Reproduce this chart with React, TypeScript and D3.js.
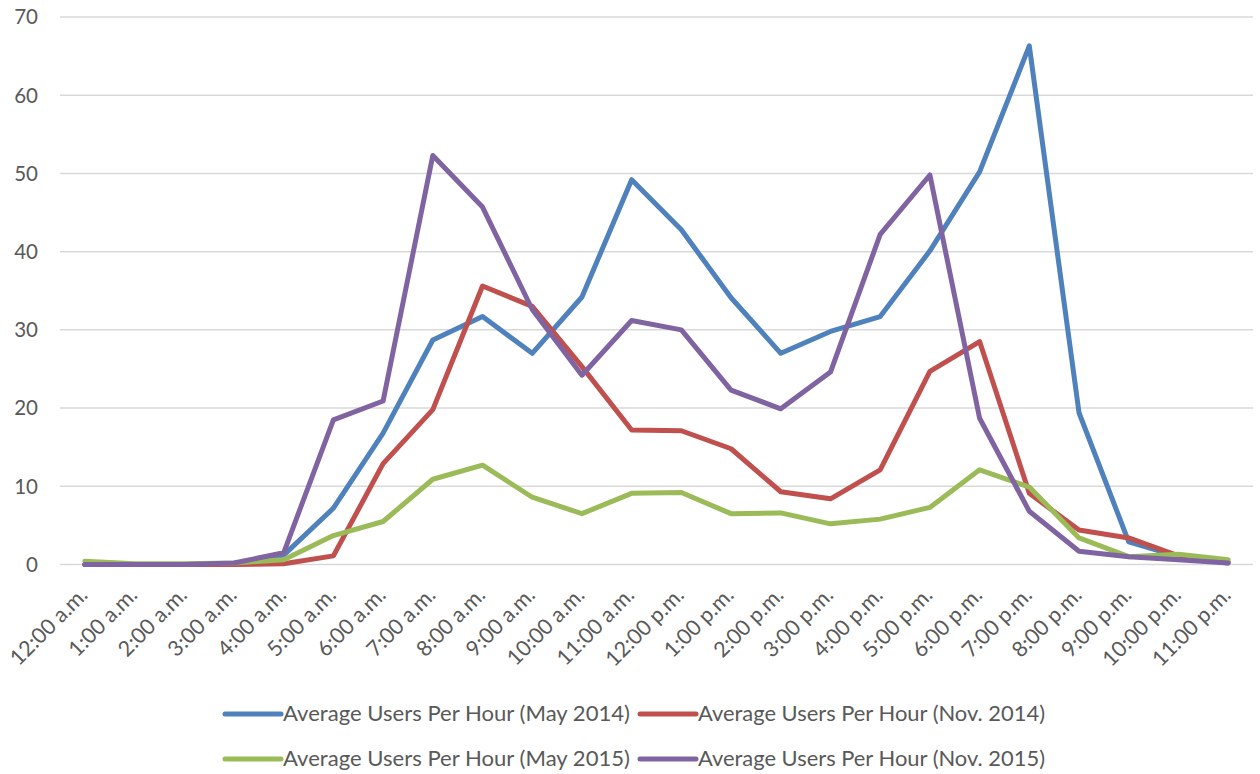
import React from "react";
import * as d3 from "d3";

const hours = [
  "12:00 a.m.", "1:00 a.m.", "2:00 a.m.", "3:00 a.m.", "4:00 a.m.", "5:00 a.m.",
  "6:00 a.m.", "7:00 a.m.", "8:00 a.m.", "9:00 a.m.", "10:00 a.m.", "11:00 a.m.",
  "12:00 p.m.", "1:00 p.m.", "2:00 p.m.", "3:00 p.m.", "4:00 p.m.", "5:00 p.m.",
  "6:00 p.m.", "7:00 p.m.", "8:00 p.m.", "9:00 p.m.", "10:00 p.m.", "11:00 p.m.",
];

const may2014 = [0, 0, 0, 0.1, 1.2, 7.2, 16.8, 28.7, 31.7, 27.0, 34.2, 49.2, 42.8, 34.1, 27.0, 29.8, 31.7, 40.1, 50.2, 66.3, 19.4, 2.9, 1.0, 0.2];
const nov2014 = [0, 0, 0, 0, 0.1, 1.1, 12.9, 19.8, 35.6, 33.0, 25.3, 17.2, 17.1, 14.8, 9.3, 8.4, 12.1, 24.7, 28.5, 9.1, 4.4, 3.4, 1.1, 0.4];
const may2015 = [0.4, 0.1, 0.1, 0.2, 0.6, 3.7, 5.5, 10.9, 12.7, 8.6, 6.5, 9.1, 9.2, 6.5, 6.6, 5.2, 5.8, 7.3, 12.1, 9.9, 3.4, 1.0, 1.3, 0.6];
const nov2015 = [0, 0, 0, 0.2, 1.5, 18.5, 20.9, 52.3, 45.7, 32.6, 24.2, 31.2, 30.0, 22.3, 19.9, 24.6, 42.2, 49.8, 18.7, 6.8, 1.7, 1.0, 0.6, 0.2];

const seriesNames = [
  "Average Users Per Hour (May 2014)",
  "Average Users Per Hour (Nov. 2014)",
  "Average Users Per Hour (May 2015)",
  "Average Users Per Hour (Nov. 2015)",
];
const seriesColors = ["#4F81BD", "#C0504D", "#9BBB59", "#8064A2"];
const yTicks = [0, 10, 20, 30, 40, 50, 60, 70];

export default function App() {
  const W = 1260, H = 774;
  const left = 60, right = 1253, top = 17, bottom = 564.5;
  const x = d3.scaleBand<string>().domain(hours).range([left, right]);
  const xc = (h: string) => (x(h) as number) + x.bandwidth() / 2;
  const y = d3.scaleLinear().domain([0, 70]).range([bottom, top]);
  const data = [may2014, nov2014, may2015, nov2015];
  const line = d3
    .line<number>()
    .x((_, i) => xc(hours[i]))
    .y((d) => y(d));
  const font = "Lato, 'Open Sans', sans-serif";
  const textColor = "#595959";

  const legendPos = [
    { x: 225, y: 714 },
    { x: 640, y: 714 },
    { x: 225, y: 759 },
    { x: 640, y: 759 },
  ];

  return (
    <svg width={W} height={H} style={{ position: "absolute", left: 0, top: 0, background: "#fff" }}>
      {yTicks.map((t) => (
        <g key={t}>
          <line x1={left} x2={right} y1={y(t)} y2={y(t)} stroke="#d9d9d9" strokeWidth={1.5} />
          <text x={38} y={y(t)} dy="0.36em" textAnchor="end" fontFamily={font} fontSize={20.5} fill={textColor}>
            {t}
          </text>
        </g>
      ))}
      {hours.map((h) => (
        <text
          key={h}
          transform={`translate(${xc(h) + 4},${bottom + 32}) rotate(-45)`}
          textAnchor="end"
          fontFamily={font}
          fontSize={21.5}
          fill={textColor}
        >
          {h}
        </text>
      ))}
      {data.map((d, i) => (
        <path
          key={i}
          d={line(d) || ""}
          fill="none"
          stroke={seriesColors[i]}
          strokeWidth={5}
          strokeLinejoin="round"
          strokeLinecap="round"
        />
      ))}
      {seriesNames.map((n, i) => (
        <g key={n}>
          <line
            x1={legendPos[i].x}
            x2={legendPos[i].x + 56}
            y1={legendPos[i].y}
            y2={legendPos[i].y}
            stroke={seriesColors[i]}
            strokeWidth={5}
            strokeLinecap="round"
          />
          <text
            x={legendPos[i].x + 58}
            y={legendPos[i].y}
            dy="0.36em"
            fontFamily={font}
            fontSize={20.5}
            fill={textColor}
            textLength={347}
            lengthAdjust="spacingAndGlyphs"
          >
            {n}
          </text>
        </g>
      ))}
    </svg>
  );
}
